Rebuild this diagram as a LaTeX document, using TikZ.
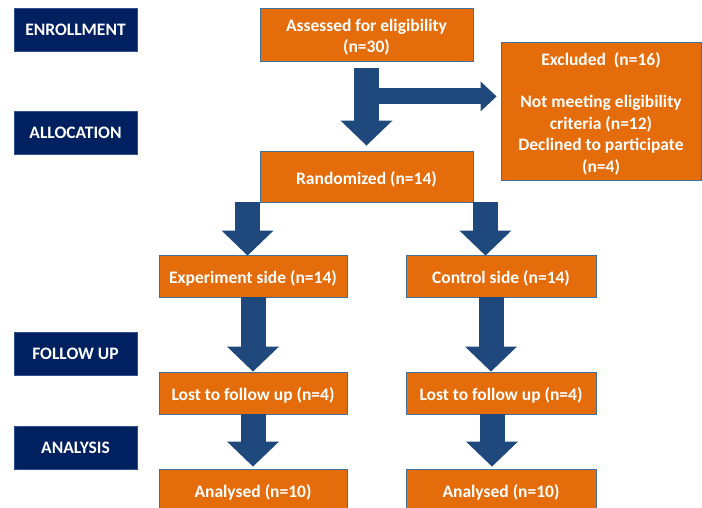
\documentclass[tikz,border=0pt]{standalone}
\usepackage{fontspec}
\setmainfont{Carlito}
\usetikzlibrary{arrows.meta,calc}
\definecolor{boxorange}{HTML}{E46C0A}
\definecolor{boxedge}{HTML}{41719C}
\definecolor{navy}{HTML}{002060}
\definecolor{navyedge}{HTML}{2F528F}
\definecolor{arrowblue}{HTML}{1F497D}
\newcommand\dnline[1]{\raisebox{-2.5pt}[\height][\depth]{#1}}
\begin{document}
\begin{tikzpicture}[x=1pt,y=-1pt,
  obox/.style={draw=boxedge, line width=0.9pt, fill=boxorange, text=white, inner sep=0pt,
    align=center, font=\fontsize{17.5}{21.4}\selectfont\bfseries},
  lbox/.style={draw=navyedge, line width=0.8pt, fill=navy, text=white, inner sep=0pt,
    minimum width=123pt, minimum height=43pt, font=\fontsize{17.5}{21.4}\selectfont\bfseries},
  fat/.style={draw=arrowblue, line width=25pt, line cap=butt,
    -{Triangle[length=25pt,width=52pt,line width=0pt]}},
  thin/.style={draw=arrowblue, line width=16pt, line cap=butt,
    -{Triangle[length=16pt,width=30pt,line width=0pt]}}]
\useasboundingbox (0,0) rectangle (702,508);
\clip (0,0) rectangle (702,508);
% phase labels
\node[lbox] (enroll) at (75.5,29.5) {ENROLLMENT};
\node[lbox] (alloc) at (75.5,132.5) {ALLOCATION};
\node[lbox] (follow) at (75.5,353.5) {FOLLOW UP};
\node[lbox] (analysis) at (75.5,447.5) {ANALYSIS};
% boxes
\node[obox, minimum width=213pt, minimum height=53pt] (assess) at (366.5,34.5) {\dnline{Assessed for eligibility}\\\dnline{(n=30)}};
\node[obox, minimum width=200pt, minimum height=138pt] (excl) at (601,111) {\dnline{Excluded\ \ (n=16)}\\[21.4pt]\dnline{Not meeting eligibility}\\\dnline{criteria (n=12)}\\\dnline{Declined to participate}\\\dnline{(n=4)}};
\node[obox, minimum width=213pt, minimum height=51pt] (rand) at (366.5,176.5) {\dnline{Randomized (n=14)}};
\node[obox, minimum width=188pt, minimum height=42pt] (exp) at (253,276) {\dnline{Experiment side (n=14)}};
\node[obox, minimum width=190pt, minimum height=42pt] (ctrl) at (501,276) {\dnline{Control side (n=14)}};
\node[obox, minimum width=188pt, minimum height=42pt] (lostL) at (253,393) {\dnline{Lost to follow up (n=4)}};
\node[obox, minimum width=190pt, minimum height=42pt] (lostR) at (501,393) {\dnline{Lost to follow up (n=4)}};
\node[obox, minimum width=188pt, minimum height=42pt] (anaL) at (253,490) {\dnline{Analysed (n=10)}};
\node[obox, minimum width=190pt, minimum height=42pt] (anaR) at (501,490) {\dnline{Analysed (n=10)}};
% arrows
\coordinate (s0) at ($(assess.south)+(0,7)$);
\coordinate (split) at ($(assess.south)+(0,35)$);
\draw[thin, shorten >=4pt] (split) -- (excl.west |- split);
\draw[fat, shorten >=5pt] (s0) -- (rand.north);
\coordinate (s1) at ($(rand.south west)+(-12,0)$);
\coordinate (s2) at ($(rand.south east)+(12,0)$);
\draw[fat, shorten >=-1pt] (s1) -- (exp.north -| s1);
\draw[fat, shorten >=-1pt] (s2) -- (ctrl.north -| s2);
\draw[fat] (exp.south) -- (lostL.north);
\coordinate (s3) at ($(ctrl.south)+(-10,0)$);
\draw[fat] (s3) -- (lostR.north -| s3);
\draw[fat, shorten >=2pt] (lostL.south) -- (anaL.north);
\coordinate (s4) at ($(lostR.south)+(-9,0)$);
\draw[fat, shorten >=2pt] (s4) -- (anaR.north -| s4);
\end{tikzpicture}
\end{document}
